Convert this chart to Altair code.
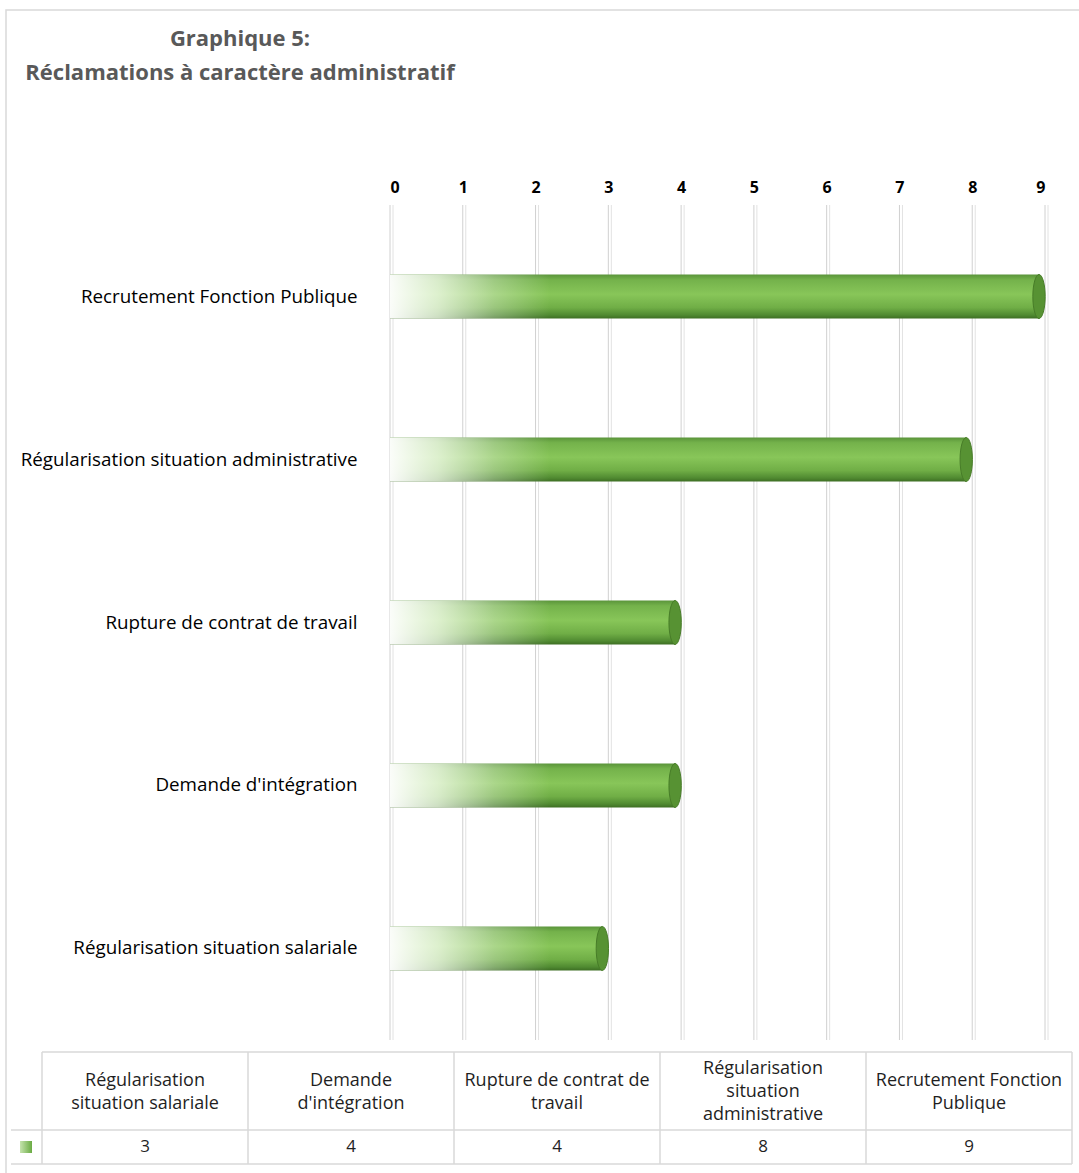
import altair as alt
import pandas as pd

# ---- data -------------------------------------------------------------
categories = [
    "Recrutement Fonction Publique",
    "Régularisation situation administrative",
    "Rupture de contrat de travail",
    "Demande d'intégration",
    "Régularisation situation salariale",
]
values = [9, 8, 4, 4, 3]
ticks = [0, 1, 2, 3, 4, 5, 6, 7, 8, 9]

table_categories = [
    "Régularisation situation salariale",
    "Demande d'intégration",
    "Rupture de contrat de travail",
    "Régularisation situation administrative",
    "Recrutement Fonction Publique",
]
table_headers = [
    "Régularisation\nsituation salariale",
    "Demande\nd'intégration",
    "Rupture de contrat de\ntravail",
    "Régularisation\nsituation\nadministrative",
    "Recrutement Fonction\nPublique",
]
table_values = [3, 4, 4, 8, 9]
title_lines = ["Graphique 5:", "Réclamations à caractère administratif"]

# ---- tables -----------------------------------------------------------
bars_df = pd.DataFrame({"cat": categories, "value": values})
ticks_df = pd.DataFrame({"t": ticks})
table_df = pd.DataFrame({"tcat": table_categories, "header": table_headers, "value": table_values})
one_df = pd.DataFrame({"k": [0]})

FONT = "Open Sans"

x_axis = alt.Axis(orient="top", values=ticks, title=None, grid=False, ticks=False, domain=False,
                  labelFont=FONT, labelFontSize=16, labelFontWeight="bold", labelColor="#000000",
                  labelPadding=10, format="d")
x_scale = alt.Scale(domain=[0, 9], nice=False, zero=True)
y_enc = alt.Y("cat:N", sort=categories,
              scale=alt.Scale(paddingInner=0.73, paddingOuter=0.4265),
              axis=alt.Axis(title=None, ticks=False, domain=False, labelPadding=33,
                            labelFont=FONT, labelFontSize=18.8, labelColor="#000000",
                            labelLimit=500))

# grid lines (double light rules like the 3D walls)
grid1 = alt.Chart(ticks_df).mark_rule(color="#d0d0d0", strokeWidth=1).encode(
    x=alt.X("t:Q", scale=x_scale, axis=x_axis))
grid2 = alt.Chart(ticks_df).mark_rule(color="#e2e2e2", strokeWidth=1, xOffset=3).encode(
    x=alt.X("t:Q", scale=x_scale, axis=x_axis))

cyl_grad = alt.Gradient(
    gradient="linear", x1=0, y1=0, x2=0, y2=1,
    stops=[
        alt.GradientStop(offset=0, color="#5a943a"),
        alt.GradientStop(offset=0.12, color="#74b24b"),
        alt.GradientStop(offset=0.45, color="#88c659"),
        alt.GradientStop(offset=0.75, color="#70ae46"),
        alt.GradientStop(offset=0.92, color="#508a31"),
        alt.GradientStop(offset=1, color="#3d6e23"),
    ],
)
bars = alt.Chart(bars_df).mark_bar(fill=cyl_grad, xOffset=-6).encode(
    x=alt.X("value:Q", scale=x_scale, axis=x_axis),
    x2=alt.datum(0),
    y=y_enc,
)

fade_grad = alt.Gradient(
    gradient="linear", x1=0, y1=0, x2=1, y2=0,
    stops=[
        alt.GradientStop(offset=0, color="rgba(255,255,255,0.97)"),
        alt.GradientStop(offset=0.3, color="rgba(250,255,245,0.75)"),
        alt.GradientStop(offset=0.65, color="rgba(255,255,255,0.3)"),
        alt.GradientStop(offset=1, color="rgba(255,255,255,0)"),
    ],
)
fade = alt.Chart(bars_df).mark_bar(fill=fade_grad).encode(
    x=alt.X("fs:Q", scale=x_scale, axis=x_axis),
    x2="fe:Q",
    y=y_enc,
).transform_calculate(fs="0", fe="min(datum.value, 2.2)")

ellipse = "M0,-1 A0.28,1 0 1,1 0,1 A0.28,1 0 1,1 0,-1 Z"
caps = alt.Chart(bars_df).mark_point(shape=ellipse, filled=True, fill="#579233", stroke="#477c28",
                                     strokeWidth=1, opacity=1, size=1936, xOffset=-6).encode(
    x=alt.X("value:Q", scale=x_scale, axis=x_axis),
    y=y_enc,
)

main = alt.layer(grid1, grid2, bars, fade, caps)

# ---- data table under the chart --------------------------------------
t_scale = alt.Scale(type="band", domain=table_categories, range=[-348, 682], paddingInner=0, paddingOuter=0)
TEXT_COLOR = "#1f1f1f"
LINE = "#d9d9d9"

frame = alt.Chart(one_df).mark_rect(fill="transparent", stroke=LINE, strokeWidth=1.5).encode(
    x=alt.value(-384), x2=alt.value(720), y=alt.value(-195), y2=alt.value(990))

col_lines = alt.Chart(table_df).mark_rule(color=LINE, strokeWidth=1.5).encode(
    x=alt.X("tcat:N", scale=t_scale, axis=None, bandPosition=0),
    y=alt.value(847), y2=alt.value(959))
right_line = alt.Chart(one_df).mark_rule(color=LINE, strokeWidth=1.5).encode(
    x=alt.value(682), y=alt.value(847), y2=alt.value(959))
h_top = alt.Chart(one_df).mark_rule(color=LINE, strokeWidth=1.5).encode(
    x=alt.value(-348), x2=alt.value(682), y=alt.value(847))
h_mid = alt.Chart(one_df).mark_rule(color=LINE, strokeWidth=1.5).encode(
    x=alt.value(-379), x2=alt.value(682), y=alt.value(925))
h_bot = alt.Chart(one_df).mark_rule(color=LINE, strokeWidth=1.5).encode(
    x=alt.value(-379), x2=alt.value(682), y=alt.value(959))

head_base = alt.Chart(table_df).transform_calculate(
    nl="length(split(datum.header, '\\n'))"
)
headers2 = head_base.mark_text(font=FONT, fontSize=18, color=TEXT_COLOR, lineBreak="\n",
                               lineHeight=23, baseline="middle", align="center").encode(
    x=alt.X("tcat:N", scale=t_scale, axis=None),
    y=alt.value(876),
    text="header:N",
).transform_filter("datum.nl == 2")
headers3 = head_base.mark_text(font=FONT, fontSize=18, color=TEXT_COLOR, lineBreak="\n",
                               lineHeight=23, baseline="middle", align="center").encode(
    x=alt.X("tcat:N", scale=t_scale, axis=None),
    y=alt.value(864),
    text="header:N",
).transform_filter("datum.nl == 3")
vals = alt.Chart(table_df).mark_text(font=FONT, fontSize=17, color=TEXT_COLOR,
                                     baseline="middle", align="center").encode(
    x=alt.X("tcat:N", scale=t_scale, axis=None),
    y=alt.value(942),
    text="value:Q",
)
legend_grad = alt.Gradient(
    gradient="linear", x1=0, y1=0, x2=1, y2=0,
    stops=[alt.GradientStop(offset=0, color="#c5e3ad"), alt.GradientStop(offset=1, color="#6aab43")],
)
legend_sq = alt.Chart(one_df).mark_square(fill=legend_grad, filled=True, size=144, opacity=1).encode(
    x=alt.value(-364), y=alt.value(942))

table = alt.layer(frame, col_lines, right_line, h_top, h_mid, h_bot, headers2, headers3, vals, legend_sq)

chart = alt.layer(main, table).resolve_scale(x="independent", y="independent").properties(
    width=655,
    height=835,
    background="white",
    autosize=alt.AutoSizeParams(type="none"),
    padding={"left": 390, "top": 205, "right": 34, "bottom": 133},
    title=alt.TitleParams(
        text=title_lines, anchor="start", frame="group", align="center", dx=-150, dy=76,
        font=FONT, fontSize=22, fontWeight="bold", color="#595959", lineHeight=34, offset=0,
    ),
).configure_view(strokeWidth=0, stroke="transparent")

chart.save("out.html", embed_options={"renderer": "svg", "actions": False})
